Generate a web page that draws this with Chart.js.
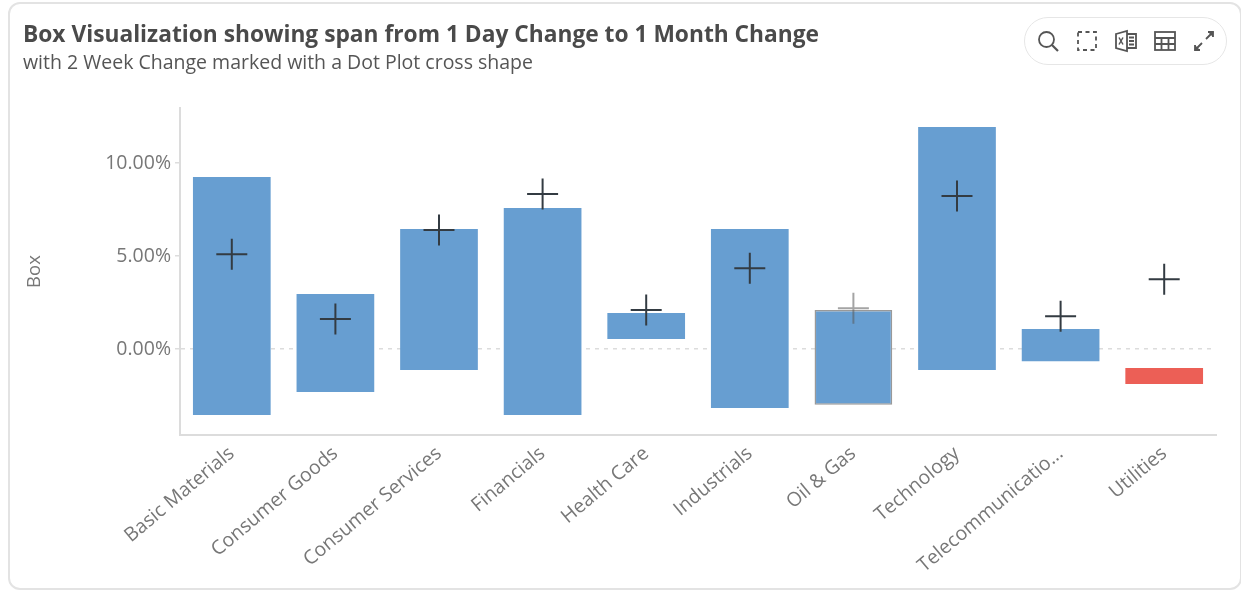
<!DOCTYPE html>
<html><head><meta charset="utf-8">
<script src="https://cdn.jsdelivr.net/npm/chart.js@4"></script>
<style>
html,body{margin:0;padding:0;background:#fff;width:1241px;height:590px;overflow:hidden;font-family:"Open Sans",sans-serif}
#card{position:absolute;left:8px;top:2px;box-sizing:content-box;width:1230px;height:584px;border:2px solid #e3e3e3;border-radius:12px}
#t{position:absolute;left:23px;top:19px;font-size:22.75px;font-weight:700;color:#4a4a4a;white-space:nowrap;line-height:30px}
#s{position:absolute;left:23px;top:49px;font-size:19.500px;color:#555;white-space:nowrap;line-height:26px}
#c{position:absolute;left:0;top:0}
#tb{position:absolute;left:1024px;top:17px;width:203px;height:48px;border:1.5px solid #e6e6e6;border-radius:24px;box-sizing:border-box}
svg.i{position:absolute;top:29px;width:24px;height:24px;fill:none;stroke:#555;stroke-width:1.8}
</style></head><body>
<div id="card"></div>
<canvas id="c" width="1241" height="590"></canvas>
<div id="t">Box Visualization showing span from 1 Day Change to 1 Month Change</div>
<div id="s">with 2 Week Change marked with a Dot Plot cross shape</div>
<div id="tb"></div>
<svg class="i" style="left:1036px" viewBox="0 0 24 24"><circle cx="10.5" cy="10.5" r="7.5"/><path d="M16 16l6 6" stroke-width="2.2"/></svg>
<svg class="i" style="left:1075px" viewBox="0 0 24 24"><rect x="3" y="3" width="18" height="18" stroke-dasharray="4 3.5"/></svg>
<svg class="i" style="left:1114px" viewBox="0 0 24 24"><path d="M2 5l11-3v20L2 19z"/><path d="M13 5h9v14h-9M15 8.5h5M15 12h5M15 15.500h5"/><path d="M5 8.500l4 7M9 8.500l-4 7" stroke-width="1.500"/></svg>
<svg class="i" style="left:1153px" viewBox="0 0 24 24"><rect x="2" y="3" width="20" height="18"/><path d="M2 9h20M2 15h20M8.500 9v12M15.500 9v12"/></svg>
<svg class="i" style="left:1192px" viewBox="0 0 24 24"><path d="M3 21l7-7M14 10l7-7"/><path d="M16 3h5v5M8 21H3v-5" fill="#555"/></svg>
<script>
const categories = ["Basic Materials","Consumer Goods","Consumer Services","Financials","Health Care","Industrials","Oil & Gas","Technology","Telecommunicatio...","Utilities"];
const oneDayChange = [-3.55,-2.31,-1.13,-3.55,0.54,-3.17,-3.0,-1.13,-0.65,-1.02];
const oneMonthChange = [9.25,2.96,6.45,7.58,1.94,6.45,2.1,11.94,1.08,-1.88];
const twoWeekChange = [5.1,1.61,6.4,8.33,2.1,4.35,2.2,8.23,1.77,3.76];
const yTicks = [0,5,10];
const highlighted = "Oil & Gas";
const isHi = c => categories[c.dataIndex] === highlighted;
const font = {family:'"Open Sans",sans-serif',size:19.5};
new Chart(document.getElementById('c'),{
  data:{labels:categories,datasets:[
    {type:'scatter',order:0,label:'2 Week Change',data:twoWeekChange.map((v,i)=>({x:categories[i],y:v})),
     pointStyle:'cross',pointRadius:15.5,pointHoverRadius:15.5,
     pointBorderWidth:2,pointBorderColor:c=>isHi(c)?'rgba(90,90,90,.55)':'#333b42',showLine:false},
    {type:'bar',order:1,label:'Box',data:oneDayChange.map((v,i)=>[v,oneMonthChange[i]]),
     backgroundColor:c=>oneMonthChange[c.dataIndex]<0?'#ec5f56':'#679ed1',
     borderColor:c=>isHi(c)?'#999':'transparent',borderWidth:c=>isHi(c)?1.5:0,borderSkipped:false,
     categoryPercentage:1,barPercentage:0.75}
  ]},
  options:{responsive:false,animation:false,
    layout:{padding:{left:24,right:25,top:108,bottom:4}},
    plugins:{legend:{display:false},tooltip:{enabled:false}},
    scales:{
      x:{type:'category',grid:{display:false},border:{color:'#dcdcdc',width:2},
        ticks:{font,color:'#777',minRotation:40,maxRotation:40,autoSkip:false,padding:-1},
        afterFit:s=>{s.height=151}},
      y:{min:-4.62,max:12.96,
        afterBuildTicks:s=>{s.ticks=yTicks.map(v=>({value:v}))},
        afterFit:s=>{s.width=156},
        title:{display:true,text:'Box',font:{family:font.family,size:18.5},color:'#777',padding:{top:0,bottom:0}},
        grid:{drawOnChartArea:true,tickLength:5,tickColor:'#ddd',
          color:c=>c.tick&&c.tick.value===0?'#dcdcdc':'transparent',
          lineWidth:1.5},
        border:{color:'#dcdcdc',width:2,dash:[4,5]},
        ticks:{font,color:'#777',padding:4,callback:v=>v.toFixed(2)+'%'}}
    }
  }
});
</script>
</body></html>
